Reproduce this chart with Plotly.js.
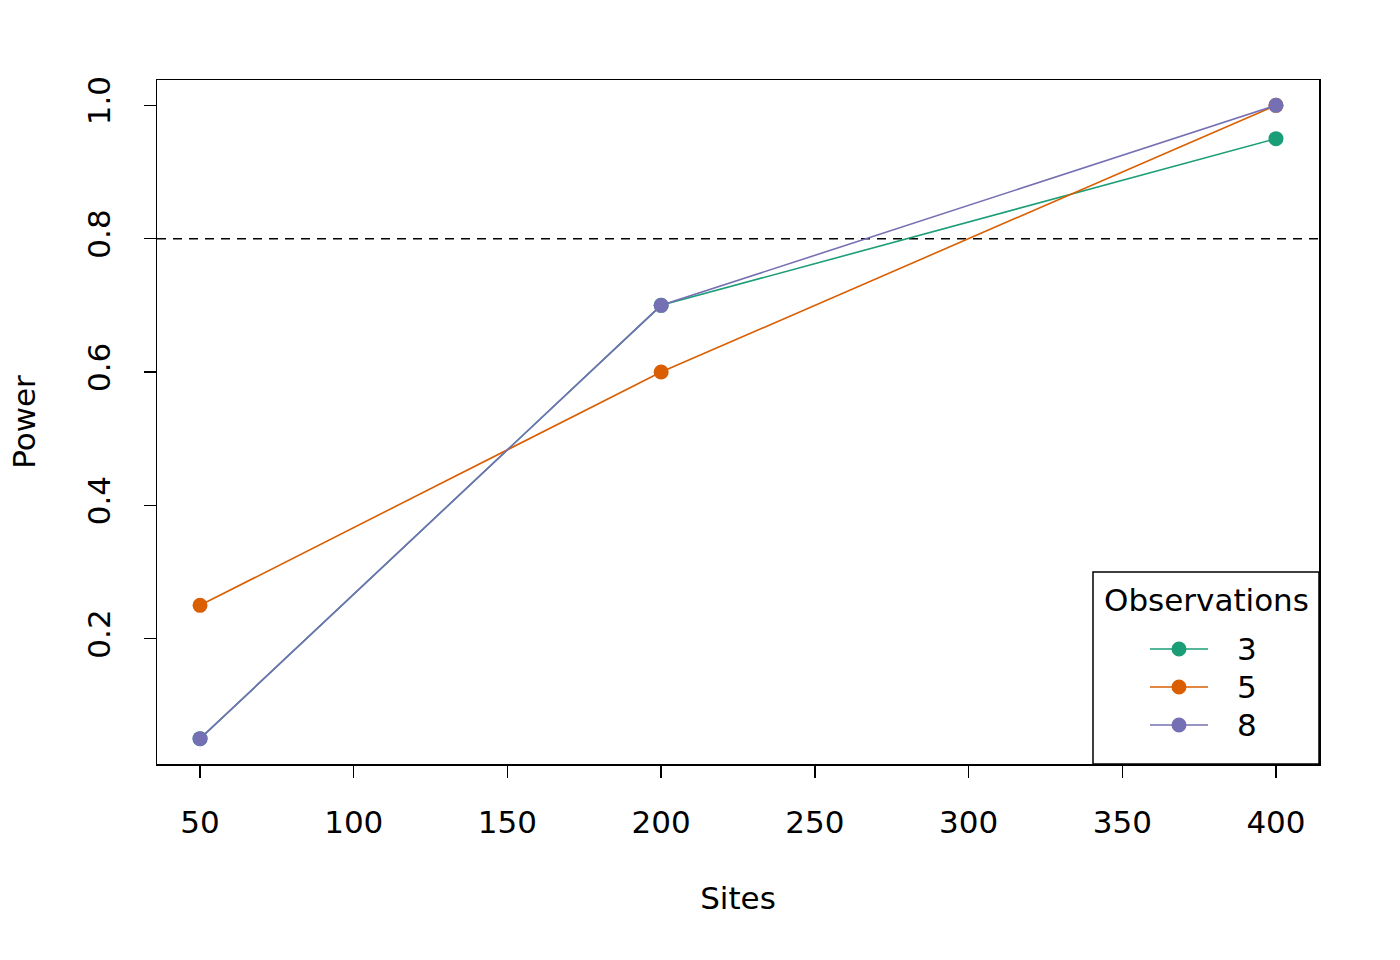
<!DOCTYPE html>
<html>
<head>
<meta charset="utf-8">
<script src="https://cdn.plot.ly/plotly-3.0.1.min.js"></script>
<style>html,body{margin:0;padding:0;background:#fff;}#chart{width:1400px;height:960px;}</style>
</head>
<body>
<div id="chart"></div>
<script>
const sites = [50, 200, 400];
const obsLabels = ["3", "5", "8"];
const power3 = [0.05, 0.70, 0.95];
const power5 = [0.25, 0.60, 1.00];
const power8 = [0.05, 0.70, 1.00];
const colors = ["#1B9E77", "#D95F02", "#7570B3"];
const threshold = 0.8;
const xTicks = [50, 100, 150, 200, 250, 300, 350, 400];
const yTicks = [0.2, 0.4, 0.6, 0.8, 1.0];
const legendTitle = "Observations";

const series = [power3, power5, power8];
const FONT = "DejaVu Sans, sans-serif";
const FS = 31;

// plot area in pixels
const PL = 157, PR = 1319, PT = 80, PB = 764;
const px2x = p => (p - PL) / (PR - PL);
const px2y = p => (PB - p) / (PB - PT);

const traces = series.map((vals, i) => ({
  x: sites,
  y: vals,
  type: "scatter",
  mode: "lines+markers",
  name: obsLabels[i],
  showlegend: false,
  line: {color: colors[i], width: 1.6},
  marker: {color: colors[i], size: 15, symbol: "circle"}
}));

const shapes = [{
  type: "line", xref: "paper", x0: 0, x1: 1, yref: "y", y0: threshold, y1: threshold,
  line: {color: "#000", width: 1.5, dash: "9px,7px"}, layer: "below"
}];
const annotations = [];

// legend (bottom-right, drawn like R's legend())
shapes.push({
  type: "rect", xref: "paper", yref: "paper",
  x0: px2x(1093), x1: 1, y0: 0, y1: px2y(572),
  line: {color: "#000", width: 1.5}, fillcolor: "#ffffff", layer: "above"
});
annotations.push({
  xref: "paper", yref: "paper", x: px2x(1206), y: px2y(600),
  text: legendTitle, showarrow: false, xanchor: "center", yanchor: "middle",
  font: {family: FONT, size: FS, color: "#000"}
});
const itemY = [649, 687, 725];
obsLabels.forEach((lab, i) => {
  const yy = px2y(itemY[i]);
  shapes.push({
    type: "line", xref: "paper", yref: "paper",
    x0: px2x(1150), x1: px2x(1208), y0: yy, y1: yy,
    line: {color: colors[i], width: 1.6}, layer: "above"
  });
  shapes.push({
    type: "circle", xref: "paper", yref: "paper",
    xsizemode: "pixel", ysizemode: "pixel",
    xanchor: px2x(1179), yanchor: yy,
    x0: -7.5, x1: 7.5, y0: -7.5, y1: 7.5,
    line: {color: colors[i], width: 0}, fillcolor: colors[i], layer: "above"
  });
  annotations.push({
    xref: "paper", yref: "paper", x: px2x(1235), y: yy,
    text: lab, showarrow: false, xanchor: "left", yanchor: "middle",
    font: {family: FONT, size: FS, color: "#000"}
  });
});

const layout = {
  width: 1400,
  height: 960,
  paper_bgcolor: "#ffffff",
  plot_bgcolor: "#ffffff",
  margin: {l: PL, r: 1400 - PR, t: PT, b: 960 - PB},
  font: {family: FONT, size: FS, color: "#000"},
  showlegend: false,
  xaxis: {
    range: [36, 414],
    tickvals: xTicks,
    ticktext: xTicks.map(String),
    ticks: "outside", ticklen: 12, tickwidth: 1.5, tickcolor: "#000",
    showgrid: false, zeroline: false,
    showline: true, linecolor: "#000", linewidth: 1.5, mirror: true,
    tickfont: {family: FONT, size: FS, color: "#000"},
    ticklabelstandoff: 18,
    title: {text: "Sites", font: {family: FONT, size: FS, color: "#000"}, standoff: 48}
  },
  yaxis: {
    range: [0.012, 1.038],
    tickvals: yTicks,
    ticktext: yTicks.map(v => v.toFixed(1)),
    tickangle: -90,
    ticks: "outside", ticklen: 12, tickwidth: 1.5, tickcolor: "#000",
    showgrid: false, zeroline: false,
    showline: true, linecolor: "#000", linewidth: 1.5, mirror: true,
    tickfont: {family: FONT, size: FS, color: "#000"},
    ticklabelstandoff: 21,
    title: {text: "Power", font: {family: FONT, size: FS, color: "#000"}, standoff: 36}
  },
  shapes: shapes,
  annotations: annotations
};

Plotly.newPlot("chart", traces, layout, {displayModeBar: false, staticPlot: true});
</script>
</body>
</html>
